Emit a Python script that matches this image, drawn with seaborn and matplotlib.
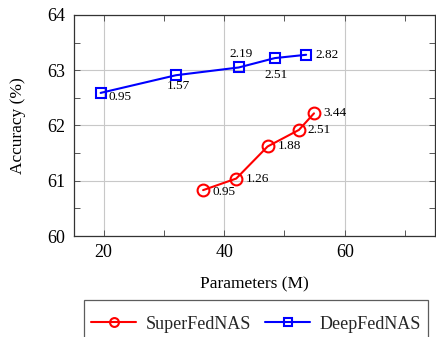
import numpy as np
import pandas as pd
import matplotlib
matplotlib.use('Agg')
import matplotlib.pyplot as plt
import seaborn as sns
from matplotlib.ticker import MultipleLocator

# data
super_params = [36.5, 42.0, 47.2, 52.4, 54.9]
super_acc = [60.83, 61.04, 61.62, 61.92, 62.22]
super_lbl = ['0.95', '1.26', '1.88', '2.51', '3.44']

deep_params = [19.5, 32.0, 42.4, 48.4, 53.6]
deep_acc = [62.59, 62.91, 63.05, 63.22, 63.28]
deep_lbl = ['0.95', '1.57', '2.19', '2.51', '2.82']

sns.set_theme(style="whitegrid")
plt.rcParams['font.family'] = ['Liberation Serif', 'DejaVu Serif']
plt.rcParams['mathtext.fontset'] = 'stix'

fig = plt.figure(figsize=(4.36, 3.37), dpi=100)
ax = fig.add_axes([0.1686, 0.2997, 0.8294, 0.6558])

df_s = pd.DataFrame({'Parameters': super_params, 'Accuracy': super_acc})
df_d = pd.DataFrame({'Parameters': deep_params, 'Accuracy': deep_acc})

sns.lineplot(data=df_s, x='Parameters', y='Accuracy', ax=ax, color='red', lw=1.5,
             marker='o', markersize=8.5, markerfacecolor='none', markeredgecolor='red',
             markeredgewidth=1.5, label='SuperFedNAS', sort=False)
sns.lineplot(data=df_d, x='Parameters', y='Accuracy', ax=ax, color='blue', lw=1.5,
             marker='s', markersize=7.5, markerfacecolor='none', markeredgecolor='blue',
             markeredgewidth=1.5, label='DeepFedNAS', sort=False)

# point annotations (offsets in points)
s_off = [(7, -1.5), (7, 0), (7, 0), (6, 0), (7, 0)]
for x, y, t, o in zip(super_params, super_acc, super_lbl, s_off):
    ax.annotate(t, (x, y), xytext=o, textcoords='offset points', fontsize=9.5,
                ha='left', va='center', color='black')
d_off = [((6, -3), 'left'), ((2, -8), 'center'), ((2, 10), 'center'),
         ((1, -12), 'center'), ((7, 0), 'left')]
for x, y, t, (o, ha) in zip(deep_params, deep_acc, deep_lbl, d_off):
    ax.annotate(t, (x, y), xytext=o, textcoords='offset points', fontsize=9.5,
                ha=ha, va='center', color='black')

ax.set_xlim(15, 75)
ax.set_ylim(60, 64)
ax.xaxis.set_major_locator(MultipleLocator(20))
ax.xaxis.set_minor_locator(MultipleLocator(10))
ax.yaxis.set_major_locator(MultipleLocator(1))
ax.yaxis.set_minor_locator(MultipleLocator(0.5))
ax.grid(True, which='major', color='#c8c8c8', lw=0.8)
ax.grid(False, which='minor')
ax.set_facecolor('white')
for s in ax.spines.values():
    s.set_color('#333333')
    s.set_linewidth(0.9)
ax.tick_params(which='both', direction='in', top=True, right=True, bottom=True, left=True,
               color='#555555', labelsize=13, labelcolor='black')
ax.tick_params(which='major', length=4, width=0.7, pad=6)
ax.tick_params(which='minor', length=4, width=0.7)
ax.set_xlabel('Parameters (M)', fontsize=12.5, color='black', labelpad=11)
ax.set_ylabel('Accuracy (%)', fontsize=12.5, color='black', labelpad=15)

ax.get_legend().remove()
h, l = ax.get_legend_handles_labels()
# tiny blank title just pushes the entries down a little inside the frame
leg = fig.legend(h, l, loc='upper center', bbox_to_anchor=(256 / 436, 1 - 300 / 337),
                 ncol=2, fontsize=13, frameon=True, fancybox=False, edgecolor='#333333',
                 handlelength=2.5, columnspacing=0.8, handletextpad=0.5, borderpad=0.4,
                 borderaxespad=0, markerscale=0.75, title=' ', title_fontsize=2,
                 labelspacing=0.25)
leg.get_frame().set_linewidth(0.9)

fig.savefig('out.png', dpi=100)
